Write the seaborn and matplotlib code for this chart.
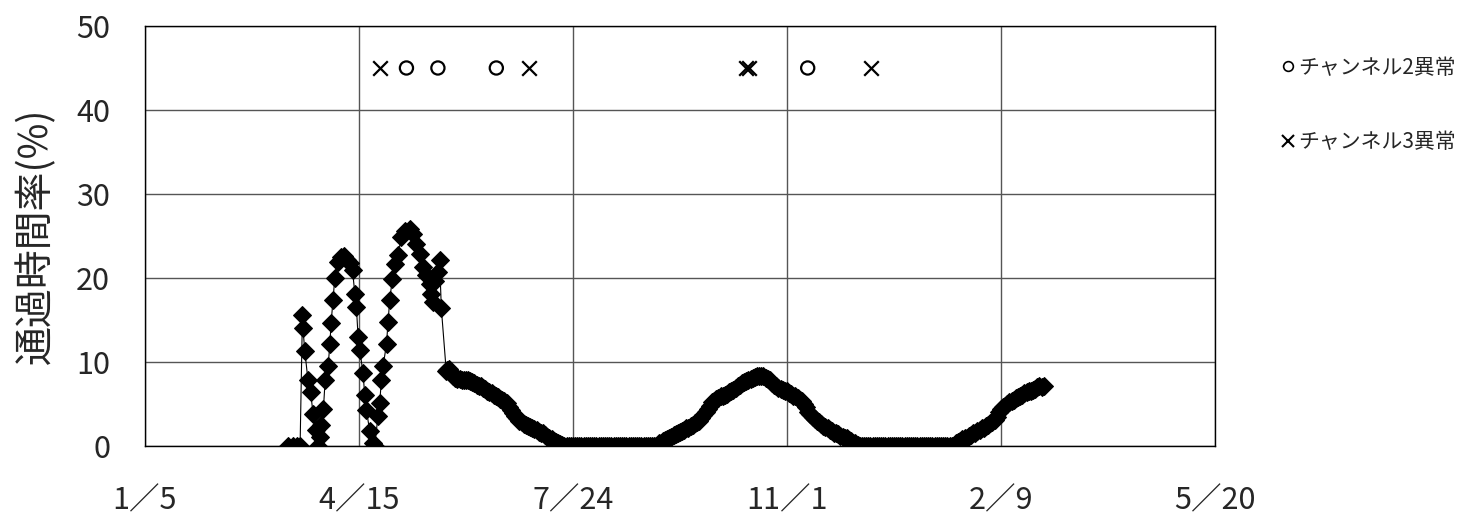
import numpy as np
import pandas as pd
import matplotlib
matplotlib.use("Agg")
import matplotlib.pyplot as plt
from matplotlib.lines import Line2D
import seaborn as sns

sns.set_style("white")
plt.rcParams["font.family"] = ["Noto Sans CJK JP", "DejaVu Sans"]

# x = days since 1/5
tick_days = [0, 100, 200, 300, 400, 500]
tick_labels = ["1／5", "4／15", "7／24", "11／1", "2／9", "5／20"]

# early part (irregular points)
early_days = [67, 69, 71, 72.5, 73.6, 73.8, 74.7, 76.2, 77.4, 78.6, 79.8, 80.9,
              81.7, 82.5, 83.4, 84.2, 85.6, 86.4, 87.0, 87.9, 88.7, 90.0, 91.5,
              93.0, 94.5, 96.0, 97.0, 98.1, 98.8, 99.6, 100.4, 101.9, 102.7,
              103.5, 105.0, 106.6, 107.4, 108.9, 109.7, 110.5, 111.3, 112.9,
              113.6, 114.4, 115.6, 116.7, 118.3, 119.8, 121.4, 123.7, 125.3,
              126.8, 128.4, 130.0, 131.5, 133.0, 133.8, 134.6, 135.4, 136.9,
              137.7, 138.5, 140.8]
early_vals = [0, 0, 0, 0, 15.6, 14.1, 11.3, 7.8, 6.4, 3.8, 1.9, 0,
              1.1, 2.5, 4.4, 7.8, 9.5, 12.1, 14.7, 17.4, 20.0, 21.9, 22.5,
              22.6, 22.2, 21.8, 20.9, 18.1, 16.6, 13.0, 11.4, 8.7, 6.1,
              4.3, 1.8, 0.4, 0, 3.6, 5.1, 7.9, 9.5, 12.2,
              14.8, 17.4, 19.9, 21.7, 22.7, 24.9, 25.6, 25.8, 25.2,
              24.1, 22.9, 21.3, 20.3, 19.3, 18.1, 17.2, 19.7, 20.7,
              22.1, 16.4, 8.9]

# daily values from day 141
daily_start = 141
daily_vals = (
    [9.0, 9.2, 8.8, 8.3, 8.1, 8.0, 8.0, 7.9, 7.9, 7.8,
     7.8, 7.7, 7.6, 7.5, 7.3, 7.2, 7.1, 6.9, 6.8, 6.6,
     6.4, 6.3, 6.1, 5.9, 5.8, 5.6, 5.5, 5.3, 5.1, 4.7,
     4.3, 3.9, 3.6, 3.3, 3.0, 2.8, 2.6, 2.5, 2.4, 2.3,
     2.2, 2.0, 1.9, 1.7, 1.6, 1.5, 1.3, 1.1, 0.9, 0.8,
     0.6, 0.5, 0.3, 0.2, 0.1, 0.0]
    + [0.0] * 43
    + [0.3, 0.4, 0.6, 0.7, 0.8, 1.0, 1.1, 1.3, 1.4, 1.5,
       1.7, 1.8, 1.9, 2.1, 2.2, 2.4, 2.5, 2.7, 2.9, 3.0,
       3.3, 3.7, 4.0, 4.4, 4.8, 5.2, 5.4, 5.6, 5.7, 5.9,
       6.0, 6.1, 6.2, 6.4, 6.5, 6.7, 6.9, 7.2, 7.3, 7.5,
       7.6, 7.7, 7.9, 8.0, 8.1, 8.2, 8.3, 8.3, 8.3, 8.3,
       8.1, 8.0, 7.8, 7.5, 7.3, 7.1, 6.9, 6.8, 6.7, 6.6,
       6.5, 6.3, 6.2, 6.0, 5.9, 5.7, 5.5, 5.4, 5.0, 4.6,
       4.1, 3.8, 3.5, 3.2, 3.0, 2.8, 2.6, 2.4, 2.3, 2.1,
       1.9, 1.8, 1.6, 1.5, 1.4, 1.2, 1.1, 1.0, 0.9, 0.7,
       0.6, 0.4, 0.3, 0.1, 0.0]
    + [0.0] * 44
    + [0.3, 0.5, 0.6, 0.8, 0.9, 1.0, 1.2, 1.3, 1.5, 1.6,
       1.8, 1.9, 2.1, 2.2, 2.4, 2.5, 2.7, 2.8, 3.1, 3.5,
       4.0, 4.4, 4.6, 4.8, 5.0, 5.2, 5.4, 5.5, 5.7, 5.8,
       6.0, 6.1, 6.3, 6.4, 6.5, 6.6, 6.7, 6.8, 7.0, 7.1,
       7.0, 7.2]
)

# anomaly marks (plotted at 45)
ch2_days = [122.2, 136.9, 164.2, 309.7]
ch3_days = [109.7, 179.7, 280.8, 282.3, 339.3]
mark_level = 45

days = early_days + list(np.arange(daily_start, daily_start + len(daily_vals)))
df = pd.DataFrame({"day": days, "rate": early_vals + daily_vals})

fig = plt.figure(figsize=(14.73, 5.27), dpi=100)
ax = fig.add_axes([0.0984, 0.1537, 0.7264, 0.7970])

sns.lineplot(data=df, x="day", y="rate", ax=ax, sort=False, estimator=None,
             color="black", linewidth=0.8, marker="D", markersize=9,
             markeredgecolor="black", markerfacecolor="black")

sns.scatterplot(x=ch2_days, y=[mark_level] * len(ch2_days), ax=ax, marker="o",
                s=90, facecolor="none", edgecolor="black", linewidth=1.6)
sns.scatterplot(x=ch3_days, y=[mark_level] * len(ch3_days), ax=ax, marker="x",
                s=110, color="black", linewidth=1.6)

ax.set_xlim(0, 500)
ax.set_ylim(0, 50)
ax.set_xticks(tick_days)
ax.set_xticklabels(tick_labels, fontsize=22)
ax.set_yticks(range(0, 51, 10))
ax.tick_params(axis="y", labelsize=22, pad=25, direction="in", length=4)
ax.tick_params(axis="x", pad=28, length=0)
ax.grid(True, color="#555555", linewidth=1)
for s in ax.spines.values():
    s.set_color("black")
    s.set_linewidth(1)
ax.set_xlabel("")
ax.set_ylabel("通過時間率(%)", fontsize=28)
ax.yaxis.set_label_coords(-0.083, 0.5)

handles = [
    Line2D([], [], marker="o", ls="", mfc="none", mec="black", ms=7, mew=1.2),
    Line2D([], [], marker="x", ls="", color="black", ms=9, mew=1.5),
]
fig.legend(handles, ["チャンネル2異常", "チャンネル3異常"], loc="upper left",
           bbox_to_anchor=(1262 / 1473, 1 - 38 / 527), frameon=False,
           fontsize=15, handlelength=0.7, handletextpad=0.15, labelspacing=2.5)

fig.savefig("out.png", dpi=100)
